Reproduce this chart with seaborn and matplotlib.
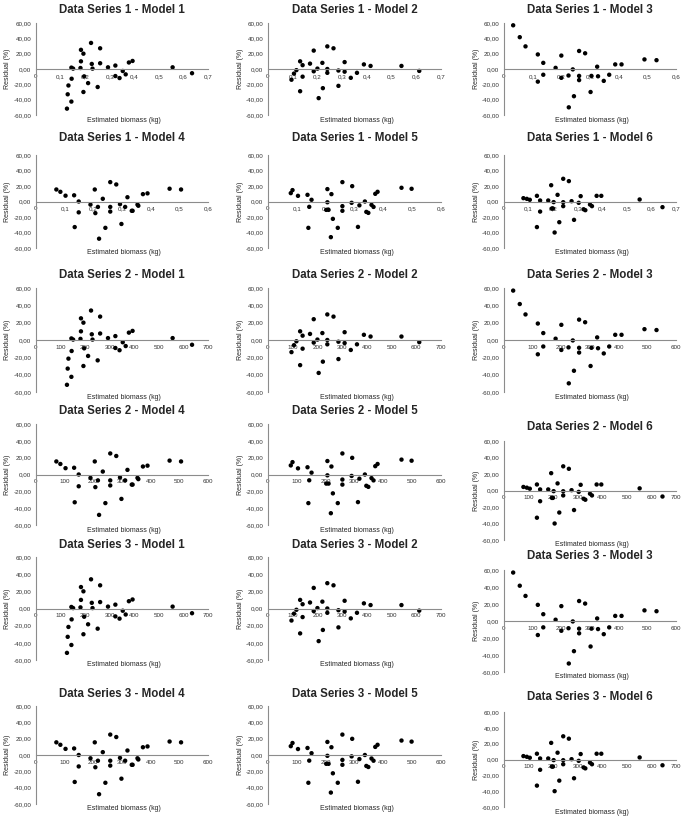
import pandas as pd
import seaborn as sns
import matplotlib.pyplot as plt
from matplotlib.ticker import FuncFormatter

# Residual data (x in kg for Data Series 1)
m1_x = [0.126, 0.129, 0.132, 0.144, 0.151, 0.145, 0.144, 0.183, 0.193, 0.183, 0.181, 0.196, 0.193, 0.212, 0.224,
        0.227, 0.230, 0.261, 0.261, 0.251, 0.293, 0.323, 0.323, 0.340, 0.353, 0.365, 0.378, 0.393, 0.556, 0.635]
m1_y = [-51.7, -33.0, -21.5, 1.8, 0.5, -12.7, -42.5, 25.0, 20.0, 10.0, 1.3, -9.6, -30.0, -18.4, 34.0,
        6.6, 0.5, 27.0, 7.5, -23.5, 2.2, 4.5, -9.2, -11.8, -2.6, -7.0, 8.5, 10.5, 2.2, -5.5]

m2_x = [0.095, 0.105, 0.115, 0.130, 0.140, 0.140, 0.130, 0.170, 0.185, 0.185, 0.200, 0.220, 0.222, 0.205,
        0.240, 0.240, 0.240, 0.265, 0.285, 0.285, 0.310, 0.310, 0.335, 0.360, 0.388, 0.415, 0.540, 0.612]
m2_y = [-14.0, -6.0, -1.5, 10.0, 5.0, -10.0, -29.0, 7.0, 24.0, -3.0, 0.5, 8.0, -25.0, -38.0,
        29.5, 0.0, -5.0, 27.0, -2.0, -22.0, 9.0, -3.5, -11.5, -5.0, 6.0, 4.0, 4.0, -2.5]

m3_x = [0.032, 0.055, 0.075, 0.118, 0.118, 0.137, 0.137, 0.180, 0.200, 0.200, 0.225, 0.240, 0.244, 0.226,
        0.262, 0.262, 0.262, 0.283, 0.302, 0.305, 0.325, 0.328, 0.348, 0.367, 0.388, 0.410, 0.490, 0.532]
m3_y = [57.0, 41.5, 29.5, 19.0, -16.5, 8.0, -7.5, 1.5, 17.5, -11.5, -8.5, -0.5, -35.5, -50.0,
        23.5, -9.0, -14.5, 20.5, -30.0, -9.0, 3.0, -9.5, -15.5, -7.5, 6.0, 6.0, 12.5, 11.5]

m4_x = [0.071, 0.085, 0.103, 0.133, 0.149, 0.149, 0.135, 0.190, 0.205, 0.207, 0.216, 0.233, 0.242, 0.220, 0.259,
        0.259, 0.259, 0.280, 0.293, 0.298, 0.311, 0.319, 0.334, 0.337, 0.354, 0.357, 0.373, 0.389, 0.466, 0.506]
m4_y = [15.5, 12.5, 7.5, 8.0, 0.0, -14.0, -33.0, -4.0, 15.5, -15.0, -7.0, 3.5, -34.0, -48.0, 25.0,
        -7.0, -13.0, 22.0, -3.5, -29.0, -7.0, 5.5, -12.0, -12.0, -4.0, -5.5, 9.5, 10.5, 16.5, 15.5]

m5_x = [0.079, 0.085, 0.104, 0.137, 0.151, 0.143, 0.140, 0.206, 0.206, 0.210, 0.202, 0.220, 0.225, 0.242, 0.218,
        0.258, 0.258, 0.258, 0.292, 0.290, 0.312, 0.317, 0.336, 0.341, 0.348, 0.359, 0.366, 0.372, 0.380, 0.463, 0.498]
m5_y = [10.8, 14.7, 7.3, 8.6, 2.2, -6.9, -34.0, 16.0, -1.0, -10.8, -10.8, 9.5, -22.4, -34.0, -46.0,
        25.0, -6.0, -12.0, 19.8, -1.7, -32.8, -5.0, 0.0, -13.4, -14.7, -4.3, -7.0, 9.9, 12.5, 17.7, 16.4]

m6_x = [0.079, 0.093, 0.105, 0.134, 0.147, 0.147, 0.134, 0.180, 0.192, 0.195, 0.199, 0.202, 0.206, 0.218, 0.225,
        0.241, 0.241, 0.241, 0.264, 0.275, 0.285, 0.304, 0.312, 0.324, 0.331, 0.350, 0.358, 0.377, 0.396, 0.552, 0.645]
m6_y = [4.3, 3.4, 2.2, 7.3, 1.3, -13.0, -33.0, 1.3, 21.0, -9.0, -9.0, -0.8, -40.0, 8.6, -26.7,
        29.3, -0.9, -6.0, 26.3, 0.4, -23.7, -1.7, 6.9, -10.0, -11.2, -3.9, -6.0, 7.3, 7.3, 2.6, -7.3]

models = ["Model 1", "Model 2", "Model 3", "Model 4", "Model 5", "Model 6"]
series = ["Data Series 1", "Data Series 2", "Data Series 3"]
model_x = [m1_x, m2_x, m3_x, m4_x, m5_x, m6_x]
model_y = [m1_y, m2_y, m3_y, m4_y, m5_y, m6_y]
model_xmax = [0.7, 0.7, 0.6, 0.6, 0.6, 0.7]
series_scale = [1, 1000, 1000]   # series 2 and 3 are plotted on a 0-700 scale

sns.set_style("white")
plt.rcParams['font.family'] = ['Liberation Sans', 'DejaVu Sans']

W, H = 685, 819
fig = plt.figure(figsize=(W / 100, H / 100), dpi=100)

# pixel layout of the plot areas (first two columns, then the third one)
row_top = [23, 155, 288, 424, 557, 706]
row_bot = [115, 248, 392, 525, 660, 804]
title_y = [10, 138, 275, 411, 545, 694]
row_top3 = [23, 155, 288, 441, 570, 712]
row_bot3 = [115, 248, 392, 540, 672, 807]
title_y3 = [10, 138, 275, 427, 556, 697]
col_left = [36, 268, 504]
col_right = [208, 441, 676]
grey = '#8c8c8c'


def fmt_x(v, pos):
    if abs(v) < 1e-9:
        return '0'
    if v >= 1:
        return f'{v:.0f}'
    return f'{v:.1f}'.replace('.', ',')


def fmt_y(v, pos):
    return f'{v:.2f}'.replace('.', ',')


for s, sname in enumerate(series):
    for m, mname in enumerate(models):
        row = s * 2 + m // 3
        col = m % 3
        if col == 2:
            top, bot, ty = row_top3[row], row_bot3[row], title_y3[row]
        else:
            top, bot, ty = row_top[row], row_bot[row], title_y[row]
        left, right = col_left[col], col_right[col]
        ax = fig.add_axes([left / W, 1 - bot / H, (right - left) / W, (bot - top) / H])

        scale = series_scale[s]
        df = pd.DataFrame({'x': [v * scale for v in model_x[m]], 'y': model_y[m]})
        sns.scatterplot(data=df, x='x', y='y', ax=ax, color='black', s=10,
                        edgecolor='none', clip_on=False)

        xmax = model_xmax[m] * scale
        step = 0.1 * scale
        ax.set_xlim(0, xmax)
        ax.set_ylim(-60, 60)
        ax.set_xticks([i * step for i in range(int(round(xmax / step)) + 1)])
        ax.set_yticks([-60, -40, -20, 0, 20, 40, 60])
        ax.xaxis.set_major_formatter(FuncFormatter(fmt_x))
        ax.yaxis.set_major_formatter(FuncFormatter(fmt_y))

        ax.spines['top'].set_visible(False)
        ax.spines['right'].set_visible(False)
        ax.spines['bottom'].set_position(('data', 0))
        for sp in ['left', 'bottom']:
            ax.spines[sp].set_color(grey)
            ax.spines[sp].set_linewidth(0.8)
        ax.tick_params(axis='both', labelsize=4.5, colors='#333333', length=2, width=0.6,
                       pad=1.5, direction='out')
        ax.tick_params(axis='both', color=grey)
        ax.set_xlabel('')
        ax.set_ylabel('')
        ax.set_facecolor('none')

        cx = (left + right) / 2
        fig.text(cx / W, 1 - ty / H, f'{sname} - {mname}', ha='center', va='center',
                 fontsize=8.3, fontweight='bold')
        fig.text((cx + 2) / W, 1 - (bot + 5) / H, 'Estimated biomass (kg)', ha='center', va='center',
                 fontsize=5)
        fig.text((left - 28) / W, 1 - ((top + bot) / 2) / H, 'Residual (%)', ha='center', va='center',
                 rotation=90, fontsize=5)

fig.savefig('out.png', dpi=100)
